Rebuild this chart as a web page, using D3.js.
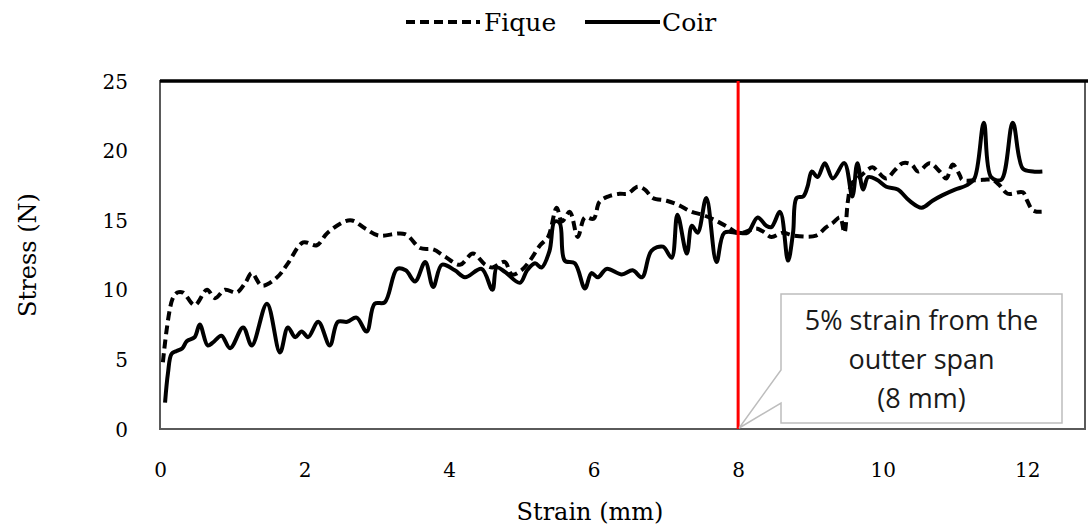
<!DOCTYPE html>
<html lang="en">
<head>
  <meta charset="UTF-8" />
  <title>Stress vs Strain - Fique / Coir</title>
  <script src="https://d3js.org/d3.v7.min.js"></script>
  <style>
    body { margin: 0; background: #fff; }
    svg { display: block; }
    .serif { font-family: "DejaVu Serif", "Liberation Serif", serif; fill: #000; }
    .note { font-family: "Open Sans", "Liberation Sans", sans-serif; fill: #1a1a1a; }
  </style>
</head>
<body>
  <div id="chart"></div>

  <script>
    const width = 1088, height = 530;

    // Fique curve (dashed)
    const fiqueX = [0.04, 0.17, 0.24, 0.32, 0.48, 0.65, 0.76, 0.9, 1.06, 1.18, 1.27, 1.41, 1.62, 1.77, 1.98, 2.17,
      2.32, 2.63, 2.84, 3.02, 3.39, 3.6, 3.78, 3.94, 4.15, 4.33, 4.5, 4.6, 4.77, 4.87, 5.0, 5.12, 5.26, 5.37,
      5.49, 5.56, 5.67, 5.78, 5.88, 6.0, 6.08, 6.2, 6.36, 6.47, 6.61, 6.71, 6.82, 7.01, 7.17, 7.36, 7.5, 7.68,
      7.86, 7.99, 8.06, 8.25, 8.34, 8.46, 8.62, 8.76, 9.08, 9.22, 9.31, 9.41, 9.47, 9.52, 9.57, 9.7, 9.86, 9.93,
      10.05, 10.17, 10.28, 10.4, 10.49, 10.65, 10.79, 10.88, 10.97, 11.07, 11.1, 11.39, 11.52, 11.62, 11.73,
      11.94, 12.0, 12.08, 12.2];
    const fiqueY = [4.8, 9.3, 9.8, 9.8, 8.9, 10.0, 9.4, 10.0, 9.8, 10.5, 11.2, 10.3, 10.9, 11.9, 13.4, 13.2,
      14.1, 15.0, 14.4, 13.9, 14.0, 13.0, 12.9, 12.4, 11.8, 12.6, 11.8, 11.6, 12.0, 11.1, 11.4, 12.1, 13.2, 13.8,
      15.9, 14.9, 15.6, 13.8, 15.2, 15.1, 16.3, 16.7, 16.9, 16.9, 17.4, 17.2, 16.6, 16.4, 16.1, 15.6, 15.4, 15.0,
      14.5, 14.1, 14.1, 14.4, 14.2, 13.8, 14.1, 13.9, 13.9, 14.5, 14.8, 15.2, 14.1, 16.4, 17.6, 18.2, 18.8, 18.5,
      18.0, 18.6, 19.1, 19.0, 18.5, 19.1, 18.5, 18.0, 19.0, 18.2, 17.9, 17.9, 17.9, 17.5, 16.9,
      17.0, 16.4, 15.7, 15.6];

    // Coir curve (solid)
    const coirX = [0.07, 0.11, 0.16, 0.23, 0.31, 0.37, 0.48, 0.55, 0.66, 0.73, 0.85, 0.97, 1.15, 1.27, 1.48, 1.66,
      1.77, 1.87, 1.96, 2.05, 2.19, 2.35, 2.46, 2.59, 2.72, 2.86, 2.97, 3.11, 3.28, 3.4, 3.53, 3.67, 3.78, 3.9,
      4.08, 4.22, 4.45, 4.6, 4.66, 4.77, 4.98, 5.08, 5.19, 5.28, 5.39, 5.46, 5.53, 5.6, 5.74, 5.88, 5.97, 6.06,
      6.18, 6.39, 6.54, 6.67, 6.8, 6.96, 7.08, 7.16, 7.29, 7.36, 7.44, 7.56, 7.7, 7.81, 7.99, 8.13, 8.27, 8.39,
      8.46, 8.58, 8.69, 8.76, 8.81, 8.9, 8.96, 9.02, 9.1, 9.2, 9.31, 9.47, 9.58, 9.65, 9.73, 9.8, 9.92, 10.05,
      10.21, 10.37, 10.54, 10.69, 10.83, 11.0, 11.16, 11.27, 11.4, 11.5, 11.64, 11.8, 11.94, 12.08, 12.21];
    const coirY = [1.9, 4.0, 5.4, 5.6, 5.8, 6.3, 6.6, 7.5, 6.0, 6.2, 6.7, 5.8, 7.3, 6.0, 9.0, 5.5,
      7.3, 6.6, 7.0, 6.6, 7.7, 6.0, 7.7, 7.7, 8.0, 7.0, 9.0, 9.1, 11.5, 11.4, 10.6, 12.0, 10.2, 11.8,
      11.4, 10.9, 11.5, 10.0, 11.6, 11.3, 10.5, 11.4, 11.9, 11.6, 12.8, 14.9, 14.8, 12.1, 11.9, 10.1, 11.2, 10.9,
      11.5, 11.1, 11.4, 10.9, 12.8, 13.1, 12.3, 15.4, 12.6, 14.6, 14.1, 16.6, 12.0, 14.1, 14.1, 14.1, 15.2, 14.6,
      14.5, 15.6, 12.1, 14.1, 16.6, 16.7, 17.4, 18.5, 18.1, 19.1, 18.0, 19.1, 16.7, 19.1, 17.2, 18.1, 17.9, 17.4,
      17.2, 16.4, 15.9, 16.4, 16.8, 17.2, 17.5, 18.0, 22.0, 18.1, 17.9, 22.0, 18.7, 18.5, 18.5];

    const xTicks = [0, 2, 4, 6, 8, 10, 12];
    const yTicks = [0, 5, 10, 15, 20, 25];
    const markStrain = 8;
    const noteLines = ["5% strain from the", "outter span", "(8 mm)"];

    const margin = { left: 160, right: 3, top: 81, bottom: 101 };

    const svg = d3.select('#chart').append('svg')
      .attr('width', width)
      .attr('height', height);

    const x = d3.scaleLinear().domain([0, 12.8]).range([margin.left, width - margin.right]);
    const y = d3.scaleLinear().domain([0, 25]).range([height - margin.bottom, margin.top]);

    // plot frame: grey sides, heavy black top edge
    svg.append('rect')
      .attr('x', x(0)).attr('y', y(25))
      .attr('width', x(12.8) - x(0)).attr('height', y(0) - y(25))
      .attr('fill', 'none').attr('stroke', '#5a5a5a').attr('stroke-width', 2);
    svg.append('line')
      .attr('x1', x(0)).attr('x2', width).attr('y1', y(25)).attr('y2', y(25))
      .attr('stroke', '#000').attr('stroke-width', 3.5);

    // axes: labels only
    const xAxis = svg.append('g')
      .attr('transform', `translate(0,${y(0) + 48})`)
      .call(d3.axisBottom(x).tickValues(xTicks).tickSize(0).tickPadding(0));
    xAxis.select('.domain').remove();
    xAxis.selectAll('text').attr('class', 'serif').attr('font-size', 20).attr('dy', 0);

    const yAxis = svg.append('g')
      .attr('transform', `translate(${x(0) - 32},0)`)
      .call(d3.axisLeft(y).tickValues(yTicks).tickSize(0).tickPadding(0));
    yAxis.select('.domain').remove();
    yAxis.selectAll('text').attr('class', 'serif').attr('font-size', 20).attr('dy', '0.35em');

    svg.append('text').attr('class', 'serif')
      .attr('x', 590).attr('y', 520)
      .attr('text-anchor', 'middle').attr('font-size', 24)
      .text('Strain (mm)');
    svg.append('text').attr('class', 'serif')
      .attr('transform', 'translate(36,255) rotate(-90)')
      .attr('text-anchor', 'middle').attr('font-size', 24)
      .text('Stress (N)');

    // series
    const line = d3.line()
      .x(d => x(d[0]))
      .y(d => y(d[1]))
      .curve(d3.curveCatmullRom.alpha(0.5));

    svg.append('path')
      .datum(d3.zip(fiqueX, fiqueY))
      .attr('d', line)
      .attr('fill', 'none').attr('stroke', '#000').attr('stroke-width', 4)
      .attr('stroke-dasharray', '9,5');

    svg.append('path')
      .datum(d3.zip(coirX, coirY))
      .attr('d', line)
      .attr('fill', 'none').attr('stroke', '#000').attr('stroke-width', 4)
      .attr('stroke-linejoin', 'round');

    // 8 mm marker
    svg.append('line')
      .attr('x1', x(markStrain)).attr('x2', x(markStrain))
      .attr('y1', y(25)).attr('y2', y(0))
      .attr('stroke', '#ff0000').attr('stroke-width', 3);

    // callout box pointing at the marker foot
    const bx0 = 781, bx1 = 1062, by0 = 294, by1 = 423;
    const tip = [x(markStrain) + 1, y(0) - 1];
    svg.append('path')
      .attr('d', `M${bx0},${by0}H${bx1}V${by1}H${bx0}V403L${tip[0]},${tip[1]}L${bx0},370Z`)
      .attr('fill', '#fff').attr('stroke', '#bdbdbd').attr('stroke-width', 1.5);

    svg.append('g').selectAll('text')
      .data(noteLines)
      .join('text')
      .attr('class', 'note')
      .attr('x', (bx0 + bx1) / 2)
      .attr('y', (d, i) => 330 + i * 39)
      .attr('text-anchor', 'middle')
      .attr('font-size', 27)
      .text(d => d);

    // legend
    const legend = svg.append('g');
    legend.append('line')
      .attr('x1', 406).attr('x2', 480).attr('y1', 22).attr('y2', 22)
      .attr('stroke', '#000').attr('stroke-width', 4).attr('stroke-dasharray', '9,5');
    legend.append('text').attr('class', 'serif')
      .attr('x', 484).attr('y', 31).attr('font-size', 25).text('Fique');
    legend.append('line')
      .attr('x1', 585).attr('x2', 660).attr('y1', 22).attr('y2', 22)
      .attr('stroke', '#000').attr('stroke-width', 4);
    legend.append('text').attr('class', 'serif')
      .attr('x', 662).attr('y', 31).attr('font-size', 25).text('Coir');
  </script>
</body>
</html>
